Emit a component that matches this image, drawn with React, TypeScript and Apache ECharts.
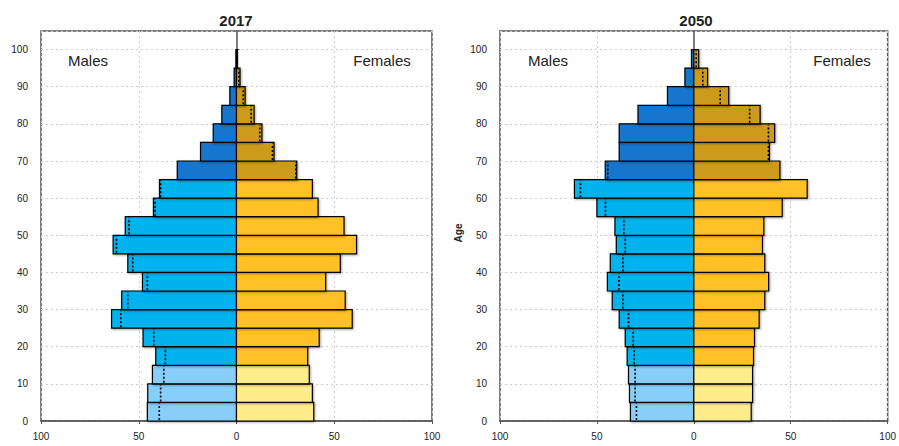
import React, { useEffect, useRef } from "react";
import * as echarts from "echarts";

const ageStarts = [0, 5, 10, 15, 20, 25, 30, 35, 40, 45, 50, 55, 60, 65, 70, 75, 80, 85, 90, 95];
const xTickValues = [-100, -50, 0, 50, 100];
const yTickStep = 10;

const males2017 = [45.6, 45.4, 43.0, 41.3, 47.8, 63.9, 58.7, 48.1, 55.6, 63.1, 56.9, 42.5, 39.4, 30.3, 18.4, 11.9, 7.5, 3.4, 1.2, 0.3];
const females2017 = [39.5, 38.8, 37.2, 36.4, 42.3, 59.2, 55.6, 45.6, 53.1, 61.4, 55.0, 41.7, 38.8, 30.8, 19.2, 13.0, 9.0, 4.4, 1.8, 0.4];
const males2050 = [32.7, 33.2, 33.7, 34.4, 35.4, 38.5, 42.1, 44.6, 43.1, 40.0, 40.7, 50.0, 61.6, 45.7, 38.5, 38.5, 28.8, 13.6, 4.6, 1.2];
const females2050 = [29.6, 30.3, 30.3, 30.8, 31.3, 33.7, 36.6, 38.6, 36.6, 35.4, 36.1, 45.6, 58.5, 44.4, 39.0, 41.7, 34.2, 18.0, 7.1, 2.5];

const panelTitles = ["2017", "2050"];
const maleColors = ["#87CEFA", "#00B2EE", "#1874CD"];
const femaleColors = ["#FFEC8B", "#FFC125", "#CD9B1D"];

function colorIndex(age: number) {
  if (age < 15) return 0;
  if (age < 65) return 1;
  return 2;
}

function makeSeries(gridIndex: number, own: number[], other: number[], sign: number, colors: string[]) {
  const data = ageStarts.map((a, i) => [a, sign * own[i], sign * other[i]]);
  return {
    type: "custom",
    xAxisIndex: gridIndex,
    yAxisIndex: gridIndex,
    encode: { x: [1, 2], y: 0 },
    data,
    renderItem: (params: any, api: any) => {
      const age = api.value(0);
      const v = api.value(1);
      const o = api.value(2);
      const p0 = api.coord([0, age]);
      const p1 = api.coord([v, age + 5]);
      const children: any[] = [
        {
          type: "rect",
          shape: {
            x: Math.min(p0[0], p1[0]),
            y: p1[1],
            width: Math.abs(p1[0] - p0[0]),
            height: p0[1] - p1[1],
          },
          style: {
            fill: colors[colorIndex(age)],
            stroke: "#000",
            lineWidth: 1.2,
            shadowBlur: 2,
            shadowColor: "rgba(0,0,0,0.35)",
            shadowOffsetX: 1,
            shadowOffsetY: 1,
          },
        },
      ];
      if (Math.abs(o) < Math.abs(v)) {
        const q0 = api.coord([o, age]);
        const q1 = api.coord([o, age + 5]);
        children.push({
          type: "line",
          shape: { x1: q0[0], y1: q0[1] - 1, x2: q1[0], y2: q1[1] + 1 },
          style: { stroke: "#000", lineWidth: 1.6, lineDash: [2, 2] },
        });
      }
      return { type: "group", children };
    },
  };
}

export default function App() {
  const ref = useRef<HTMLDivElement>(null);
  useEffect(() => {
    if (!ref.current) return;
    const chart = echarts.init(ref.current, undefined, { renderer: "svg" });
    const grids = [
      { left: 41, top: 31, width: 391, height: 390 },
      { left: 500, top: 31, width: 392, height: 390 },
    ];
    const font = "Liberation Sans, Arial, sans-serif";
    const xAxes = grids.map((_, i) => ({
      type: "value",
      gridIndex: i,
      min: xTickValues[0],
      max: xTickValues[xTickValues.length - 1],
      interval: 50,
      axisLine: { show: true, lineStyle: { color: "#555", width: 1.5 } },
      axisTick: { show: true, length: 3, lineStyle: { color: "#555" } },
      axisLabel: {
        formatter: (v: number) => String(Math.abs(v)),
        fontSize: 10,
        color: "#222",
        fontFamily: font,
        margin: 10,
      },
      splitLine: { show: true, lineStyle: { color: "#ccc", type: [2, 3], width: 1 } },
    }));
    const yAxes = grids.map((_, i) => ({
      type: "value",
      gridIndex: i,
      min: 0,
      max: 105,
      interval: yTickStep,
      axisLine: { show: true, lineStyle: { color: "#555", width: 1.5 } },
      axisTick: { show: true, inside: true, length: 3, lineStyle: { color: "#555" } },
      axisLabel: {
        showMaxLabel: false,
        fontSize: 10,
        color: "#222",
        fontFamily: font,
        margin: 13,
      },
      splitLine: { show: true, lineStyle: { color: "#ccc", type: [2, 3], width: 1 } },
    }));
    const textStyle = (txt: string, size: number, weight: string) => ({
      text: txt,
      fontSize: size,
      fontWeight: weight,
      fill: "#222",
      fontFamily: font,
      textAlign: "center",
      textVerticalAlign: "middle",
    });
    chart.setOption({
      animation: false,
      grid: grids.map((g) => ({ ...g, show: true, borderColor: "#555", borderWidth: 1.5, backgroundColor: "transparent" })),
      xAxis: xAxes,
      yAxis: yAxes,
      series: [
        makeSeries(0, males2017, females2017, -1, maleColors),
        makeSeries(0, females2017, males2017, 1, femaleColors),
        makeSeries(1, males2050, females2050, -1, maleColors),
        makeSeries(1, females2050, males2050, 1, femaleColors),
      ],
      graphic: [
        { type: "text", x: 236, y: 20, style: textStyle(panelTitles[0], 15, "bold") },
        { type: "text", x: 696, y: 20, style: textStyle(panelTitles[1], 15, "bold") },
        { type: "text", x: 88, y: 60, style: textStyle("Males", 15, "normal") },
        { type: "text", x: 382, y: 60, style: textStyle("Females", 15, "normal") },
        { type: "text", x: 548, y: 60, style: textStyle("Males", 15, "normal") },
        { type: "text", x: 842, y: 60, style: textStyle("Females", 15, "normal") },
        { type: "text", x: 458, y: 233, rotation: Math.PI / 2, style: textStyle("Age", 10, "bold") },
      ],
    });
    return () => chart.dispose();
  }, []);
  return (
    <div
      ref={ref}
      style={{ position: "fixed", left: 0, top: 0, width: 899, height: 446, background: "#fff" }}
    />
  );
}
